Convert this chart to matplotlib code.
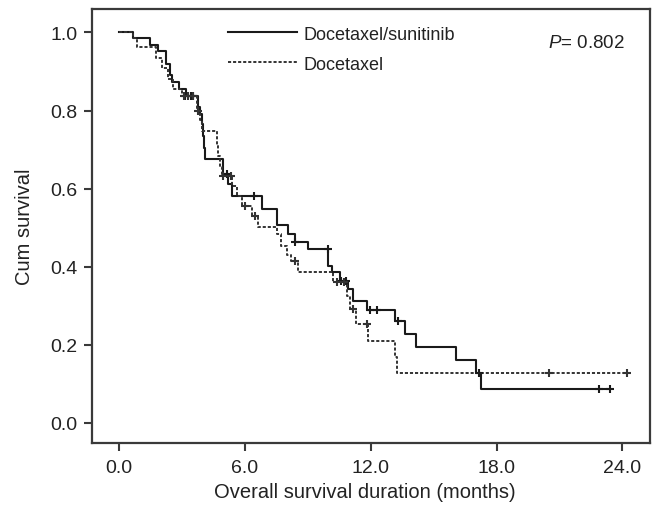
import matplotlib
matplotlib.use("Agg")
import matplotlib.pyplot as plt
import numpy as np

plt.rcParams['font.family'] = ['Liberation Sans', 'DejaVu Sans']
plt.rcParams['mathtext.fontset'] = 'custom'
plt.rcParams['mathtext.it'] = 'Liberation Sans:italic'
plt.rcParams['mathtext.rm'] = 'Liberation Sans'

# ---- data ----
combo_times = [0.0, 0.65, 1.46, 1.85, 2.23, 2.4, 2.5, 2.85, 3.2, 3.75, 3.85, 3.95, 4.0, 4.05, 4.1,
               4.96, 5.2, 5.4, 6.79, 7.51, 8.06, 8.38, 9.02, 9.97, 10.13, 10.53, 10.93, 11.17,
               11.83, 13.16, 13.63, 14.15, 16.06, 17.02, 17.24, 23.41]
combo_surv = [1.0, 0.985, 0.967, 0.952, 0.92, 0.89, 0.872, 0.855, 0.838, 0.81, 0.79, 0.765, 0.735,
              0.705, 0.676, 0.637, 0.612, 0.582, 0.548, 0.507, 0.484, 0.464, 0.445, 0.403, 0.386,
              0.363, 0.343, 0.313, 0.289, 0.262, 0.228, 0.194, 0.161, 0.128, 0.087, 0.087]
combo_cens_t = [3.15, 3.4, 3.5, 5.15, 6.43, 8.38, 9.97, 10.6, 10.8, 11.96, 12.28, 13.31, 17.17, 22.89, 23.41]
combo_cens_s = [0.838, 0.838, 0.838, 0.637, 0.582, 0.464, 0.445, 0.363, 0.363, 0.289, 0.289, 0.262, 0.128, 0.087, 0.087]

doc_times = [0.0, 0.65, 0.83, 1.75, 2.05, 2.3, 2.55, 3.0, 3.7, 3.85, 3.95, 4.65, 4.7, 4.8, 4.9,
             5.4, 5.6, 5.85, 6.32, 6.63, 7.51, 7.7, 8.0, 8.2, 8.54, 10.21, 10.85, 11.0, 11.29,
             11.88, 13.16, 13.27, 24.2]
doc_surv = [1.0, 0.985, 0.963, 0.935, 0.91, 0.88, 0.855, 0.838, 0.8, 0.775, 0.748, 0.71, 0.684,
            0.655, 0.633, 0.608, 0.582, 0.556, 0.531, 0.501, 0.484, 0.454, 0.43, 0.415, 0.386,
            0.36, 0.325, 0.292, 0.253, 0.21, 0.168, 0.128, 0.128]
doc_cens_t = [3.1, 3.3, 3.5, 3.75, 4.95, 5.35, 6.0, 6.47, 8.38, 10.4, 10.7, 11.17, 11.8, 20.5, 24.2]
doc_cens_s = [0.838, 0.838, 0.838, 0.8, 0.633, 0.633, 0.556, 0.531, 0.415, 0.36, 0.36, 0.292, 0.253, 0.128, 0.128]

series_labels = ["Docetaxel/sunitinib", "Docetaxel"]
x_ticks = [0.0, 6.0, 12.0, 18.0, 24.0]
y_ticks = [0.0, 0.2, 0.4, 0.6, 0.8, 1.0]
p_text = r"$P$= 0.802"

# ---- figure ----
W, H = 657, 506
fig = plt.figure(figsize=(W / 100, H / 100), dpi=100)
ax = fig.add_axes([91.7 / W, 1 - 444.3 / H, (650 - 91.7) / W, (444.3 - 10) / H])

ax.plot(combo_times, combo_surv, drawstyle='steps-post', color='#1a1a1a', lw=1.5,
        label=series_labels[0])
ax.plot(doc_times, doc_surv, drawstyle='steps-post', color='#333333', lw=1.4,
        linestyle=(0, (1.6, 1.0)), label=series_labels[1])
ax.plot(combo_cens_t, combo_cens_s, linestyle='none', marker='+', ms=6, mew=1.5, color='#1a1a1a')
ax.plot(doc_cens_t, doc_cens_s, linestyle='none', marker='+', ms=6, mew=1.5, color='#333333')

ax.set_xlim(-1.317, 25.32)
ax.set_ylim(-0.052, 1.06)
ax.set_xticks(x_ticks)
ax.set_xticklabels([f"{v:.1f}" for v in x_ticks])
ax.set_yticks(y_ticks)
ax.set_yticklabels([f"{v:.1f}" for v in y_ticks])

for sp in ax.spines.values():
    sp.set_color('#3a3a3a')
    sp.set_linewidth(1.6)
ax.tick_params(direction='out', length=6, width=1.5, color='#3a3a3a', labelsize=14,
               labelcolor='#222222')
ax.tick_params(axis='x', pad=5)
ax.tick_params(axis='y', pad=4)

ax.set_xlabel("Overall survival duration (months)", fontsize=14.5, color='#222222')
ax.set_ylabel("Cum survival", fontsize=14.5, color='#222222')
ax.xaxis.set_label_coords((364.5 - 91.7) / (650 - 91.7), -0.09)
ax.yaxis.set_label_coords((34 - 91.7) / (650 - 91.7), 0.5)

leg = ax.legend(loc='upper left', bbox_to_anchor=((228 - 91.7) / (650 - 91.7), 0.962),
                frameon=False, fontsize=13, handlelength=3.8, handletextpad=0.4,
                labelspacing=0.72, borderpad=0, borderaxespad=0)
for t in leg.get_texts():
    t.set_color('#222222')

ax.text((548 - 91.7) / (650 - 91.7), (444.3 - 43.5) / (444.3 - 10), p_text,
        transform=ax.transAxes, fontsize=13.5, ha='left', va='center', color='#222222')

fig.savefig("out.png", dpi=100)
